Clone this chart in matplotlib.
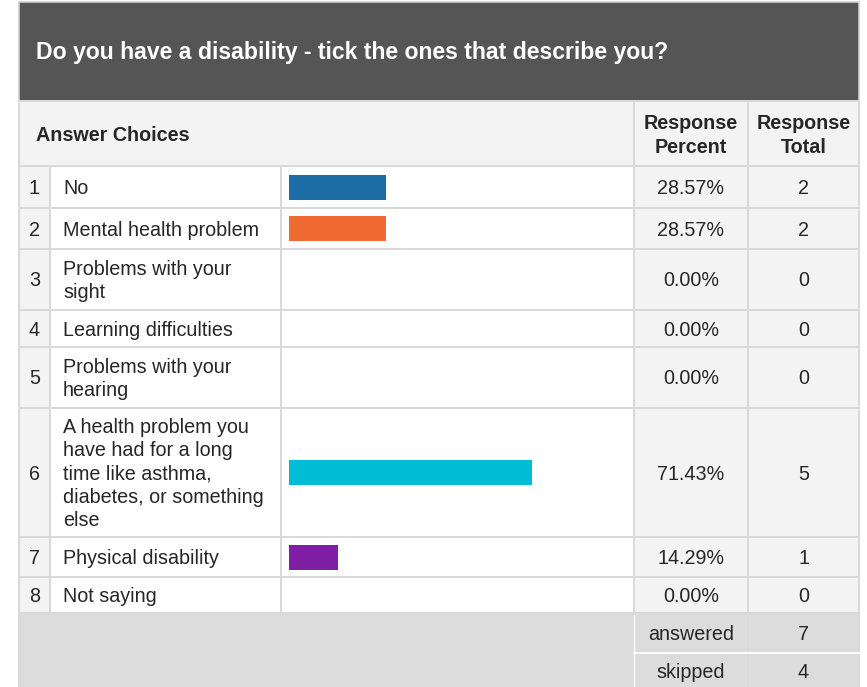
import matplotlib.pyplot as plt
from matplotlib.patches import Rectangle

plt.rcParams['font.family'] = ['Liberation Sans', 'DejaVu Sans']

title = 'Do you have a disability - tick the ones that describe you?'
choices = ['No', 'Mental health problem', 'Problems with your\nsight',
           'Learning difficulties', 'Problems with your\nhearing',
           'A health problem you\nhave had for a long\ntime like asthma,\ndiabetes, or something\nelse',
           'Physical disability', 'Not saying']
percents = [28.57, 28.57, 0.00, 0.00, 0.00, 71.43, 14.29, 0.00]
totals = [2, 2, 0, 0, 0, 5, 1, 0]
bar_colors = ['#1c6da6', '#f26a33', '#1c6da6', '#1c6da6', '#1c6da6',
              '#00bcd4', '#7e1fa4', '#1c6da6']
answered = 7
skipped = 4

W, H = 867, 687
fig = plt.figure(figsize=(W / 100, H / 100), dpi=100)
ax = fig.add_axes([0, 0, 1, 1])
ax.set_xlim(0, W)
ax.set_ylim(H, 0)
ax.axis('off')

# table geometry (pixels)
x0, x_num, x_txt, x_bar, x_pct, x_tot, x1 = 19, 19, 50, 281, 634, 748, 859
row_edges = [166, 208, 249, 310, 347, 408, 537, 577, 613]
foot_edges = [613, 653, 690]
border = '#d9d9d9'
txt_col = '#262626'
fs = 14.2
dy = 1.5  # small downward nudge of text

def cell(x, y, w, h, fc):
    ax.add_patch(Rectangle((x, y), w, h, facecolor=fc, edgecolor=border, lw=1.4))

# title bar
ax.add_patch(Rectangle((x0, 2), x1 - x0, 99, facecolor='#545554', edgecolor='#cfcfcf', lw=1.2))
ax.text(36, 53, title, color='white', fontsize=16.6, fontweight='bold', va='center', ha='left')

# column header
cell(x0, 101, x_pct - x0, 65, '#f3f3f3')
cell(x_pct, 101, x_tot - x_pct, 65, '#f3f3f3')
cell(x_tot, 101, x1 - x_tot, 65, '#f3f3f3')
ax.text(36, 134 + dy, 'Answer Choices', fontsize=fs, fontweight='bold', color=txt_col, va='center')
ax.text((x_pct + x_tot) / 2, 134 + dy, 'Response\nPercent', fontsize=fs, fontweight='bold',
        color=txt_col, va='center', ha='center', linespacing=1.3)
ax.text((x_tot + x1) / 2, 134 + dy, 'Response\nTotal', fontsize=fs, fontweight='bold',
        color=txt_col, va='center', ha='center', linespacing=1.3)

centers = []
for i in range(len(choices)):
    top, bot = row_edges[i], row_edges[i + 1]
    h = bot - top
    c = (top + bot) / 2
    centers.append(c)
    cell(x_num, top, x_txt - x_num, h, '#f3f3f3')
    cell(x_txt, top, x_bar - x_txt, h, 'white')
    cell(x_bar, top, x_pct - x_bar, h, 'white')
    cell(x_pct, top, x_tot - x_pct, h, '#f3f3f3')
    cell(x_tot, top, x1 - x_tot, h, '#f3f3f3')
    ax.text((x_num + x_txt) / 2, c + dy, str(i + 1), fontsize=fs, color=txt_col,
            ha='center', va='center')
    ax.text(63, c + dy, choices[i], fontsize=fs, color=txt_col, ha='left', va='center',
            linespacing=1.27)
    ax.text((x_pct + x_tot) / 2, c + dy, f'{percents[i]:.2f}%', fontsize=fs, color=txt_col,
            ha='center', va='center')
    ax.text((x_tot + x1) / 2, c + dy, str(totals[i]), fontsize=fs, color=txt_col,
            ha='center', va='center')

# footer
ax.add_patch(Rectangle((x0, foot_edges[0]), x_pct - x0, H - foot_edges[0] + 5,
                       facecolor='#dcdcdc', edgecolor=border, lw=1.4))
for j, (lab, val) in enumerate([('answered', answered), ('skipped', skipped)]):
    top, bot = foot_edges[j], foot_edges[j + 1]
    cell(x_pct, top, x_tot - x_pct, bot - top, '#dcdcdc')
    cell(x_tot, top, x1 - x_tot, bot - top, '#dcdcdc')
    c = (top + bot) / 2
    ax.text((x_pct + x_tot) / 2, c + dy, lab, fontsize=fs, color=txt_col, ha='center', va='center')
    ax.text((x_tot + x1) / 2, c + dy, str(val), fontsize=fs, color=txt_col, ha='center', va='center')
# white separators inside footer
ax.plot([x_pct, x1], [foot_edges[1], foot_edges[1]], color='white', lw=1.4)
ax.plot([x_pct, x_pct], [foot_edges[0] + 2, H], color='white', lw=1.0)

# bar axis: 0-100% over the bar column
bx0, bw = 289, 339.5
bax = fig.add_axes([bx0 / W, 0, bw / W, 1])
bax.set_xlim(0, 100)
bax.set_ylim(H, 0)
bax.axis('off')
bax.patch.set_alpha(0)
bax.barh(centers, percents, height=25, color=bar_colors)

fig.savefig('out.png', dpi=100)
